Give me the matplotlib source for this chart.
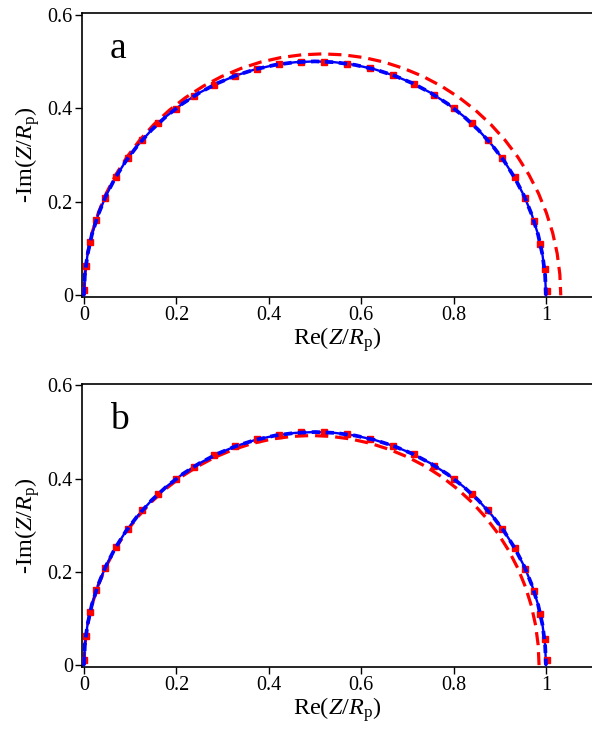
import matplotlib
matplotlib.use("Agg")
import matplotlib.pyplot as plt

plt.rcParams['font.family'] = ['Liberation Serif', 'DejaVu Serif']
plt.rcParams['mathtext.fontset'] = 'custom'
plt.rcParams['mathtext.rm'] = 'Liberation Serif'
plt.rcParams['mathtext.it'] = 'Liberation Serif:italic'
plt.rcParams['lines.scale_dashes'] = False

# ---------------- data ----------------
# ideal semicircle (blue solid / blue dashed)
blue_re = [0, 0.0019, 0.0076, 0.0170, 0.0302, 0.0468, 0.0670, 0.0904, 0.1170, 0.1464,
           0.1786, 0.2132, 0.25, 0.2887, 0.3290, 0.3706, 0.4132, 0.4564, 0.5,
           0.5436, 0.5868, 0.6294, 0.6710, 0.7113, 0.75, 0.7868, 0.8214, 0.8536,
           0.8830, 0.9096, 0.9330, 0.9532, 0.9698, 0.9830, 0.9924, 0.9981, 1.0]
blue_im = [0, 0.0436, 0.0868, 0.1294, 0.1710, 0.2113, 0.25, 0.2868, 0.3214, 0.3536,
           0.3830, 0.4096, 0.4330, 0.4532, 0.4698, 0.4830, 0.4924, 0.4981, 0.5,
           0.4981, 0.4924, 0.4830, 0.4698, 0.4532, 0.4330, 0.4096, 0.3830, 0.3536,
           0.3214, 0.2868, 0.25, 0.2113, 0.1710, 0.1294, 0.0868, 0.0436, 0]

# red dashed, panel a (slightly larger arc)
red_a_re = [0, 0.0020, 0.0078, 0.0175, 0.0312, 0.0483, 0.0691, 0.0933, 0.1207, 0.1511,
            0.1843, 0.2200, 0.2580, 0.2979, 0.3395, 0.3825, 0.4264, 0.4710, 0.516,
            0.5610, 0.6056, 0.6495, 0.6925, 0.7341, 0.774, 0.8120, 0.8477, 0.8809,
            0.9113, 0.9387, 0.9629, 0.9837, 1.0008, 1.0145, 1.0242, 1.0300, 1.032]
red_a_im = [0, 0.0450, 0.0896, 0.1335, 0.1765, 0.2181, 0.2580, 0.2960, 0.3317, 0.3649,
            0.3953, 0.4227, 0.4469, 0.4677, 0.4848, 0.4985, 0.5082, 0.5140, 0.516,
            0.5140, 0.5082, 0.4985, 0.4848, 0.4677, 0.4469, 0.4227, 0.3953, 0.3649,
            0.3317, 0.2960, 0.2580, 0.2181, 0.1765, 0.1335, 0.0896, 0.0450, 0]

# red dashed, panel b (slightly smaller arc)
red_b_re = [0, 0.0019, 0.0075, 0.0167, 0.0297, 0.0461, 0.0660, 0.0890, 0.1152, 0.1442,
            0.1759, 0.2100, 0.2463, 0.2844, 0.3241, 0.3650, 0.4070, 0.4496, 0.4925,
            0.5354, 0.5780, 0.6200, 0.6609, 0.7006, 0.7388, 0.7750, 0.8091, 0.8408,
            0.8698, 0.8960, 0.9190, 0.9389, 0.9553, 0.9683, 0.9775, 0.9831, 0.985]
red_b_im = [0, 0.0429, 0.0855, 0.1275, 0.1684, 0.2081, 0.2463, 0.2825, 0.3166, 0.3483,
            0.3773, 0.4035, 0.4265, 0.4464, 0.4627, 0.4757, 0.4850, 0.4906, 0.4925,
            0.4906, 0.4850, 0.4757, 0.4627, 0.4464, 0.4265, 0.4035, 0.3773, 0.3483,
            0.3166, 0.2825, 0.2463, 0.2081, 0.1684, 0.1275, 0.0855, 0.0429, 0]

# measured points (red squares)
pts_re = [0.000, 0.004, 0.013, 0.027, 0.046, 0.069, 0.095, 0.126, 0.161, 0.199,
          0.239, 0.282, 0.327, 0.374, 0.422, 0.470, 0.520, 0.570, 0.620, 0.668,
          0.714, 0.758, 0.800, 0.839, 0.874, 0.905, 0.932, 0.955, 0.974, 0.988,
          0.997, 1.003]
pts_im = [0.012, 0.063, 0.113, 0.162, 0.209, 0.253, 0.293, 0.332, 0.368, 0.399,
          0.426, 0.450, 0.469, 0.484, 0.494, 0.499, 0.499, 0.495, 0.485, 0.471,
          0.452, 0.428, 0.400, 0.368, 0.332, 0.293, 0.252, 0.207, 0.159, 0.109,
          0.057, 0.010]

xticks = [0, 0.2, 0.4, 0.6, 0.8, 1]
xticklabels = ["0", "0.2", "0.4", "0.6", "0.8", "1"]
yticks = [0, 0.2, 0.4, 0.6]
yticklabels = ["0", "0.2", "0.4", "0.6"]
panel_labels = ["a", "b"]

# ---------------- figure ----------------
fig = plt.figure(figsize=(5.92, 7.32), dpi=100)
ax_a = fig.add_axes([0.1385, 0.594, 0.8615, 0.388])
ax_b = fig.add_axes([0.1385, 0.0888, 0.8615, 0.3866])

for ax, rre, rim, lab in [(ax_a, red_a_re, red_a_im, panel_labels[0]),
                          (ax_b, red_b_re, red_b_im, panel_labels[1])]:
    ax.plot(rre, rim, color='#ff0000', lw=2.3, dashes=(9.5, 5.0), zorder=2)
    ax.plot(blue_re, blue_im, color='#0000ff', lw=1.7, zorder=3)
    ax.plot(pts_re, pts_im, ls='none', marker='s', ms=4.8, color='#ff0000',
            mec='#ff0000', zorder=4)
    ax.plot(blue_re, blue_im, color='#0000ff', lw=2.7, dashes=(6.0, 4.0), zorder=5)

    ax.set_xlim(-0.0043, 1.0996)
    ax.set_ylim(-0.004, 0.603)
    ax.set_xticks(xticks)
    ax.set_xticklabels(xticklabels)
    ax.set_yticks(yticks)
    ax.set_yticklabels(yticklabels)
    ax.tick_params(direction='out', length=5, width=1, labelsize=14.5, pad=1.5)
    ax.spines['right'].set_visible(False)
    for s in ['left', 'bottom', 'top']:
        ax.spines[s].set_linewidth(1.2)
    ax.set_xlabel(r'Re($Z$/$R_{\mathrm{p}}$)', fontsize=17.5, labelpad=0)
    ax.set_ylabel(r'-Im($Z$/$R_{\mathrm{p}}$)', fontsize=17.5, labelpad=4)
    ax.text(0.055, 0.875, lab, transform=ax.transAxes, fontsize=27,
            ha='left', va='center')

fig.savefig('out.png', dpi=100)
